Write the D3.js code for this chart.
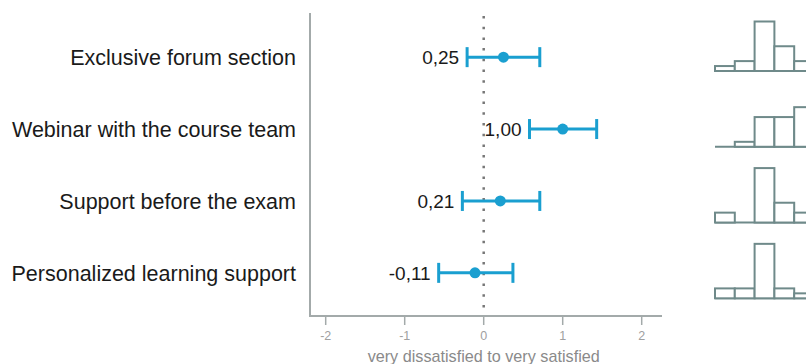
<!DOCTYPE html>
<html><head><meta charset="utf-8">
<script src="https://cdn.jsdelivr.net/npm/d3@7"></script>
<style>
html,body{margin:0;padding:0;background:#fff;overflow:hidden}
text{font-family:"Liberation Sans",Arial,sans-serif}
</style></head>
<body><svg id="c" width="806" height="364"></svg>
<script>
const categories = ["Exclusive forum section","Webinar with the course team","Support before the exam","Personalized learning support"];
const means = [0.25, 1.00, 0.21, -0.11];
const lower = [-0.21, 0.58, -0.27, -0.57];
const upper = [0.71, 1.43, 0.71, 0.37];
const meanLabels = ["0,25","1,00","0,21","-0,11"];
const xTicks = [-2,-1,0,1,2];
const xTitle = "very dissatisfied to very satisfied";
// histogram counts per answer (-2..2)
const histBins = [-2,-1,0,1,2];
const histForum = [1,2,10,5,2];
const histWebinar = [0,1,6,6,8];
const histExam = [2,0,11,4,2];
const histPersonal = [2,2,11,2,1];
const hists = [histForum, histWebinar, histExam, histPersonal];

const svg = d3.select("#c");
const blue = "#1a9fd0";
const x = d3.scaleLinear().domain([-2,2]).range([325.7,641.7]);
const y = d3.scalePoint().domain(categories).range([14,316]).padding(0.6);

// axes lines
svg.append("line").attr("x1",310).attr("x2",310).attr("y1",13).attr("y2",317)
  .attr("stroke","#a3aaaa").attr("stroke-width",2);
const xa = svg.append("g").attr("transform","translate(0,316)");
xa.append("line").attr("x1",309).attr("x2",662).attr("stroke","#a3aaaa").attr("stroke-width",2);
xa.selectAll("line.t").data(xTicks).join("line").attr("class","t")
  .attr("x1",d=>x(d)).attr("x2",d=>x(d)).attr("y1",0).attr("y2",9)
  .attr("stroke","#a3aaaa").attr("stroke-width",1.5);
xa.selectAll("text").data(xTicks).join("text")
  .attr("x",d=>x(d)).attr("y",24).attr("text-anchor","middle")
  .attr("font-size",12.5).attr("fill","#a0a0a0").text(d=>d);
svg.append("text").attr("x",x(0)).attr("y",362).attr("text-anchor","middle")
  .attr("font-size",16.2).attr("fill","#8a8a8a").text(xTitle);

// zero dotted line
svg.append("line").attr("x1",x(0)).attr("x2",x(0)).attr("y1",16).attr("y2",310)
  .attr("stroke","#777").attr("stroke-width",2.5).attr("stroke-dasharray","2.5,8.2");

// category labels
svg.selectAll("text.cat").data(categories).join("text").attr("class","cat")
  .attr("x",296).attr("y",d=>y(d)).attr("dy","0.36em").attr("text-anchor","end")
  .attr("font-size",21.5).attr("fill","#1a1a1a").text(d=>d);

const rows = categories.map((c,i)=>({c,m:means[i],lo:lower[i],hi:upper[i],lab:meanLabels[i]}));
const g = svg.selectAll("g.row").data(rows).join("g").attr("class","row")
  .attr("transform",d=>`translate(0,${y(d.c)})`);
g.append("line").attr("x1",d=>x(d.lo)).attr("x2",d=>x(d.hi)).attr("stroke",blue).attr("stroke-width",3);
g.append("line").attr("x1",d=>x(d.lo)).attr("x2",d=>x(d.lo)).attr("y1",-10).attr("y2",10).attr("stroke",blue).attr("stroke-width",3);
g.append("line").attr("x1",d=>x(d.hi)).attr("x2",d=>x(d.hi)).attr("y1",-10).attr("y2",10).attr("stroke",blue).attr("stroke-width",3);
g.append("circle").attr("cx",d=>x(d.m)).attr("r",5.5).attr("fill",blue);
g.append("text").attr("x",d=>x(d.lo)-8).attr("dy","0.36em").attr("text-anchor","end")
  .attr("font-size",19).attr("fill","#1a1a1a").text(d=>d.lab);

// histograms
const hx = d3.scaleBand().domain(histBins).range([715,814]).padding(0);
const hy = d3.scaleLinear().domain([0,10]).range([0,49.5]);
const hBase = d3.scalePoint().domain(categories).range([71,298.3]);
const hg = svg.selectAll("g.hist").data(categories).join("g").attr("class","hist")
  .attr("transform",d=>`translate(0,${hBase(d)})`);
hg.append("line").attr("x1",hx(-2)).attr("x2",816).attr("stroke","#6f8a8a").attr("stroke-width",2);
hg.selectAll("rect").data((d,i)=>hists[i].map((v,j)=>({b:histBins[j],v}))).join("rect")
  .attr("x",d=>hx(d.b)).attr("width",hx.bandwidth()).attr("y",d=>-hy(d.v)).attr("height",d=>hy(d.v))
  .attr("fill","#fff").attr("stroke","#6f8a8a").attr("stroke-width",2);
</script></body></html>
